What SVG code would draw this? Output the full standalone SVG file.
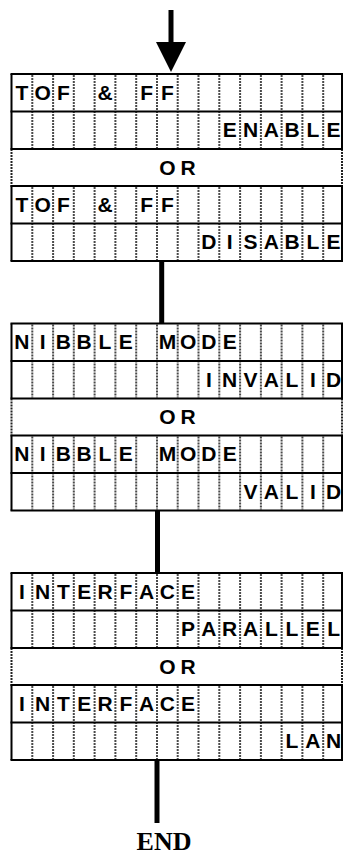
<svg xmlns="http://www.w3.org/2000/svg" xmlns:xlink="http://www.w3.org/1999/xlink" width="343" height="856" viewBox="0 0 343 856">
<style>
.h{stroke:#000;stroke-width:2;fill:none}
.b{stroke:#000;stroke-width:2;fill:none}
.bd{stroke:#222;stroke-width:2;stroke-dasharray:2 1;fill:none}
.sep{stroke:#4a4a4a;stroke-width:2;stroke-dasharray:2 1;fill:none}
.t{font-family:"Liberation Sans",Arial,sans-serif;font-weight:bold;font-size:21px;fill:#000;text-anchor:middle}
.end{font-family:"Liberation Serif","Times New Roman",serif;font-weight:bold;font-size:26px;fill:#000;text-anchor:middle}
.con{stroke:#000;stroke-width:5;fill:none}
</style>
<defs>
<g id="grid">
<rect x="11.5" y="0" width="330.5" height="187" fill="#fff"/>
<path class="sep" d="M32.3 1V74M53.1 1V74M73.8 1V74M94.6 1V74M115.4 1V74M136.2 1V74M157 1V74M177.7 1V74M198.5 1V74M219.3 1V74M240.1 1V74M260.9 1V74M281.6 1V74M302.4 1V74M323.2 1V74"/>
<path class="sep" d="M32.3 113V186M53.1 113V186M73.8 113V186M94.6 113V186M115.4 113V186M136.2 113V186M157 113V186M177.7 113V186M198.5 113V186M219.3 113V186M240.1 113V186M260.9 113V186M281.6 113V186M302.4 113V186M323.2 113V186"/>
<path class="b" d="M11.5 0V75M11.5 112V187M342 0V75M342 112V187"/>
<path class="bd" d="M11.5 75V112M342 75V112"/>
<path class="h" d="M10.5 0H343M10.5 37.5H343M10.5 75H343M10.5 112H343M10.5 149.5H343M10.5 187H343"/>
</g>
</defs>
<g id="connectors">
<line class="con" x1="171" y1="10" x2="171" y2="44" stroke-width="5.5"/>
<polygon points="156,42 186,42 171,72" fill="#000"/>
<line class="con" x1="161.7" y1="261" x2="161.7" y2="323"/>
<line class="con" x1="157.5" y1="511" x2="157.5" y2="573"/>
<line class="con" x1="157" y1="760" x2="157" y2="823"/>
</g>
<g id="block1" transform="translate(0,74)">
<use xlink:href="#grid"/>
<text class="t" x="21.9 42.7 63.4 84.2 105 125.8 146.6 167.4" y="25.5">TOF &amp; FF</text>
<text class="t" x="229.7 250.5 271.3 292 312.8 333.6" y="63">ENABLE</text>
<text class="t" x="167.4 188.1" y="100.5">OR</text>
<text class="t" x="21.9 42.7 63.4 84.2 105 125.8 146.6 167.4" y="137.5">TOF &amp; FF</text>
<text class="t" x="208.9 229.7 250.5 271.3 292 312.8 333.6" y="175">DISABLE</text>
</g>
<g id="block2" transform="translate(0,323.5)">
<use xlink:href="#grid"/>
<text class="t" x="21.9 42.7 63.4 84.2 105 125.8 146.6 167.4 188.1 208.9 229.7" y="25.5">NIBBLE MODE</text>
<text class="t" x="208.9 229.7 250.5 271.3 292 312.8 333.6" y="63">INVALID</text>
<text class="t" x="167.4 188.1" y="100.5">OR</text>
<text class="t" x="21.9 42.7 63.4 84.2 105 125.8 146.6 167.4 188.1 208.9 229.7" y="137.5">NIBBLE MODE</text>
<text class="t" x="250.5 271.3 292 312.8 333.6" y="175">VALID</text>
</g>
<g id="block3" transform="translate(0,573)">
<use xlink:href="#grid"/>
<text class="t" x="21.9 42.7 63.4 84.2 105 125.8 146.6 167.4 188.1" y="25.5">INTERFACE</text>
<text class="t" x="188.1 208.9 229.7 250.5 271.3 292 312.8 333.6" y="63">PARALLEL</text>
<text class="t" x="167.4 188.1" y="100.5">OR</text>
<text class="t" x="21.9 42.7 63.4 84.2 105 125.8 146.6 167.4 188.1" y="137.5">INTERFACE</text>
<text class="t" x="292 312.8 333.6" y="175">LAN</text>
</g>
<g id="end">
<text class="end" x="164" y="850">END</text>
</g>
</svg>
